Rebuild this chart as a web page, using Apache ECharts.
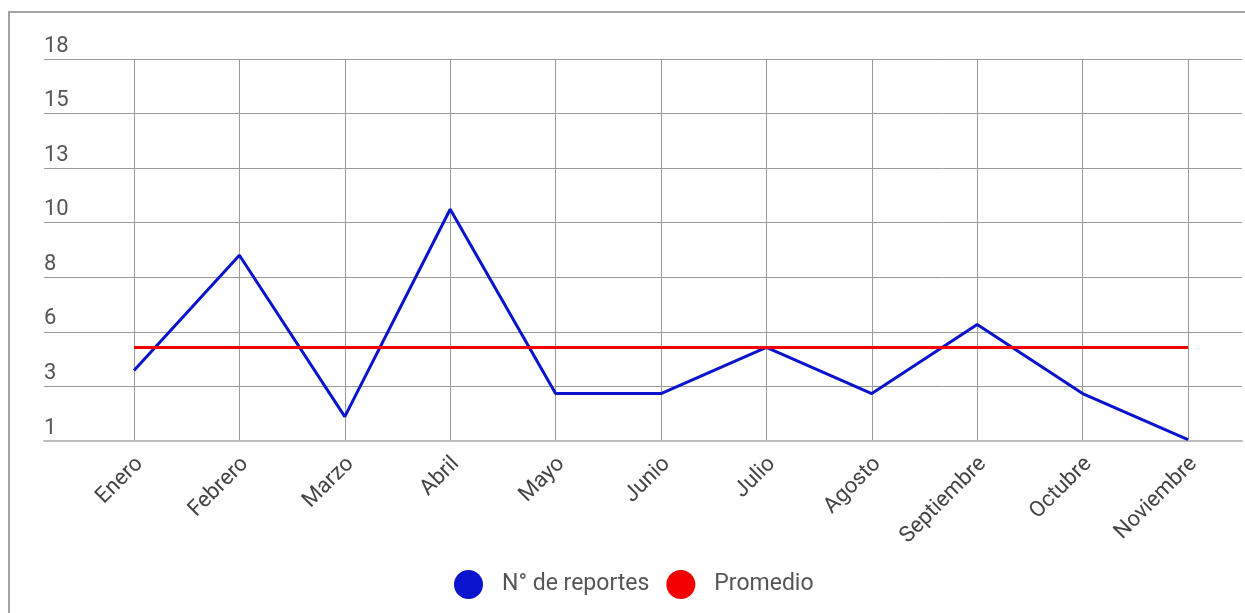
<!DOCTYPE html>
<html>
<head>
<meta charset="utf-8">
<script src="https://cdn.jsdelivr.net/npm/echarts@6/dist/echarts.min.js"></script>
<style>
    html, body {
        margin: 0;
        padding: 0;
        background: #fff;
    }
    #frame {
        position: absolute;
        left: 8px;
        top: 11px;
        width: 1300px;
        height: 700px;
        border-top: 2px solid #a3a3a3;
        border-left: 2px solid #a3a3a3;
    }
    #chart {
        position: absolute;
        left: 0;
        top: 0;
        width: 1245px;
        height: 613px;
    }
</style>
</head>
<body>
<div id="frame"></div>
<div id="chart"></div>
<script>
// datos
const meses = ['Enero', 'Febrero', 'Marzo', 'Abril', 'Mayo', 'Junio', 'Julio', 'Agosto', 'Septiembre', 'Octubre', 'Noviembre']
const reportes = [4, 9, 2, 11, 3, 3, 5, 3, 6, 3, 1]
const promedio = [5, 5, 5, 5, 5, 5, 5, 5, 5, 5, 5]
const etiquetasY = ['1', '3', '6', '8', '10', '13', '15', '18']

const chart = echarts.init(document.getElementById('chart'))

const option = {
    textStyle: {
        fontFamily: 'Roboto'
    },
    grid: [
        // grid de fondo: lineas horizontales y etiquetas del eje y
        { left: 44, right: 3, top: 59, bottom: 172 },
        // grid de los datos
        { left: 134, right: 57, top: 59, bottom: 172 }
    ],
    xAxis: [
        {
            gridIndex: 0,
            type: 'value',
            min: 0,
            max: 1,
            axisLine: { show: true, onZero: false, lineStyle: { color: '#bdbdbd', width: 2 } },
            axisTick: { show: false },
            axisLabel: { show: false },
            splitLine: { show: false }
        },
        {
            gridIndex: 1,
            type: 'category',
            boundaryGap: false,
            data: meses,
            axisLine: { show: false },
            axisTick: { show: false },
            axisLabel: {
                rotate: 45,
                margin: 14,
                verticalAlign: 'top',
                lineHeight: 16,
                color: '#444',
                fontSize: 22,
                fontFamily: 'Roboto'
            },
            splitLine: {
                show: true,
                lineStyle: { color: '#9a9a9a', width: 1 }
            }
        }
    ],
    yAxis: [
        {
            gridIndex: 0,
            type: 'value',
            min: 0,
            max: etiquetasY.length - 1,
            interval: 1,
            axisLine: { show: false },
            axisTick: { show: false },
            axisLabel: {
                inside: true,
                margin: 0,
                verticalAlign: 'bottom',
                lineHeight: 22,
                padding: [0, 0, 2, 0],
                color: '#555',
                fontSize: 22,
                fontFamily: 'Roboto',
                formatter: function (v) {
                    return etiquetasY[Math.round(v)]
                }
            },
            splitLine: {
                show: true,
                lineStyle: { color: '#9a9a9a', width: 1 }
            }
        },
        {
            gridIndex: 1,
            type: 'value',
            min: 0.94,
            max: 17.52,
            show: false
        }
    ],
    legend: {
        bottom: 9,
        left: 449,
        icon: 'circle',
        itemWidth: 29,
        itemHeight: 29,
        itemGap: 17,
        textStyle: {
            color: '#555',
            fontSize: 23,
            fontFamily: 'Roboto',
            padding: [0, 0, 0, 14]
        },
        data: ['N° de reportes', 'Promedio']
    },
    series: [
        {
            name: 'N° de reportes',
            type: 'line',
            xAxisIndex: 1,
            yAxisIndex: 1,
            data: reportes,
            showSymbol: false,
            color: '#0a14cc',
            lineStyle: { width: 3, color: '#0a14cc' }
        },
        {
            name: 'Promedio',
            type: 'line',
            xAxisIndex: 1,
            yAxisIndex: 1,
            data: promedio,
            showSymbol: false,
            color: '#f20000',
            lineStyle: { width: 3, color: '#f20000' }
        }
    ]
}

chart.setOption(option)
</script>
</body>
</html>
